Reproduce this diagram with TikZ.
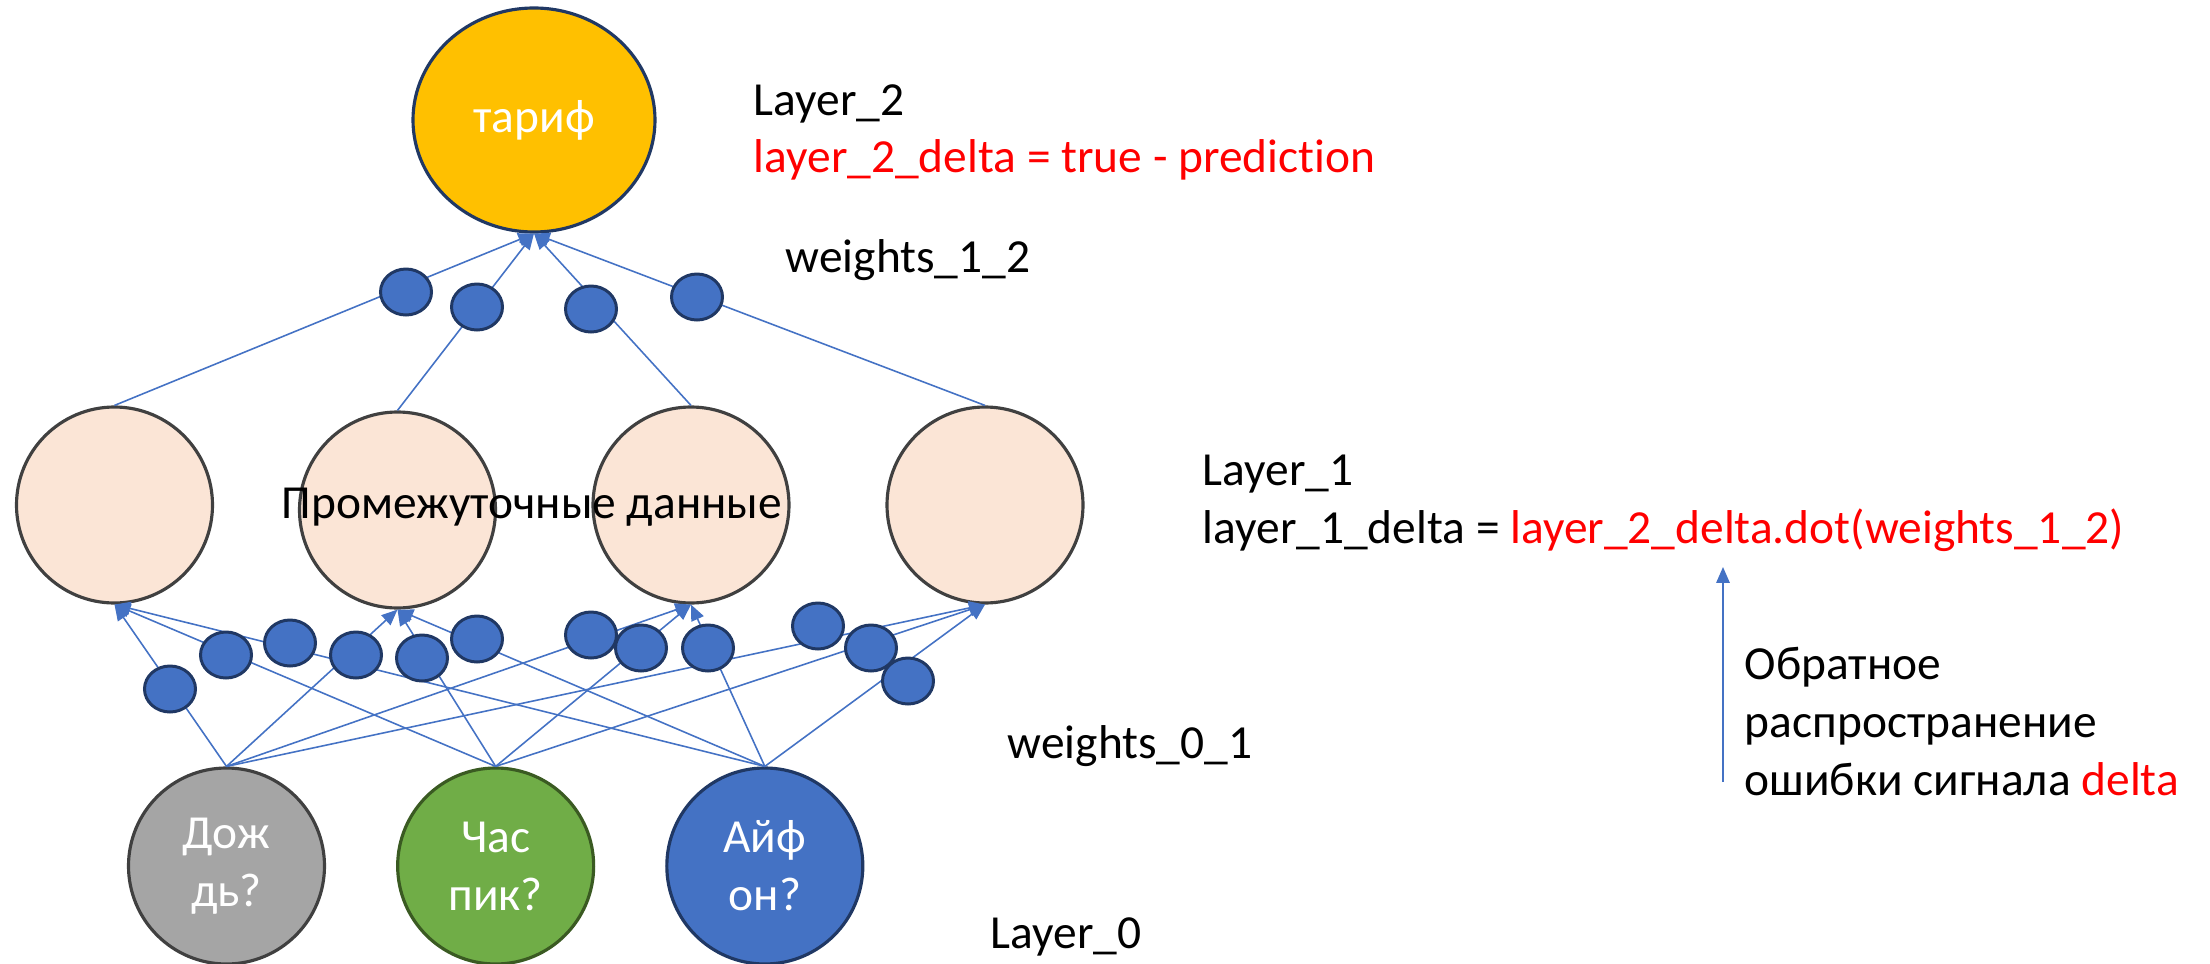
\documentclass[tikz,border=0pt]{standalone}
\usepackage{fontspec}
\setmainfont{Carlito}[Ligatures=NoCommon]
\usetikzlibrary{positioning,shapes.geometric,arrows.meta}

\definecolor{tarifgold}{HTML}{FFC000}
\definecolor{peach}{HTML}{FBE5D6}
\definecolor{raingray}{HTML}{A5A5A5}
\definecolor{rushgreen}{HTML}{70AD47}
\definecolor{wblue}{HTML}{4472C4}
\definecolor{navy}{HTML}{203864}
\definecolor{edgegray}{HTML}{404040}
\definecolor{darkgreen}{HTML}{3A5A22}
\newcommand{\lbl}{\fontsize{13.5}{16.5}\selectfont}

\begin{document}
\begin{tikzpicture}[
        neuron/.style = {
            circle,
            draw=edgegray,
            line width=0.9pt,
            minimum size=1.96cm,
            inner sep=0pt,
            text=white,
            align=center,
            font=\lbl
        },
        hidden/.style = {neuron, fill=peach},
        wdot/.style = {
            ellipse, draw=navy, fill=wblue, line width=0.85pt,
            minimum width=0.51cm, minimum height=0.46cm, inner sep=0pt
        },
        link/.style = {draw=wblue, line width=0.45pt, ->},
        note/.style = {anchor=base west, inner sep=0pt, font=\lbl},
        >={Triangle[length=4.5pt,width=3.8pt]},
        node distance=0.70cm]

        \useasboundingbox (0,0) rectangle (22.1,-9.64);

        % output layer
        \node[neuron, ellipse, fill=tarifgold, draw=navy,
              minimum width=2.42cm, minimum height=2.24cm] (tarif) at (5.34,-1.20) {тариф};

        % hidden layer
        \node[hidden] (h1) at (1.145,-5.05) {};
        \node[hidden] (h2) at (3.975,-5.10) {};
        \node[hidden] (h3) at (6.91,-5.05) {};
        \node[hidden] (h4) at (9.85,-5.05) {};

        % input layer
        \node[neuron, fill=raingray] (i1) at (2.265,-8.66) {Дож\\дь?};
        \node[neuron, fill=rushgreen, draw=darkgreen, right=of i1] (i2) {Час\\пик?};
        \node[neuron, fill=wblue, draw=navy, right=of i2] (i3) {Айф\\он?};

        \foreach \i in {i1,i2,i3}
            \foreach \h in {h1,h2,h3,h4}
                \draw[link] (\i.north) -- (\h.south);
        \foreach \h in {h1,h2,h3,h4}
            \draw[link] (\h.north) -- (tarif.south);

        % weights
        \foreach \x/\y [count=\k] in {4.06/-2.92, 4.77/-3.07, 5.91/-3.09, 6.97/-2.97}
            \node[wdot] (w12-\k) at (\x,\y) {};
        \foreach \x/\y [count=\k] in {1.70/-6.89, 2.26/-6.55, 2.90/-6.43, 3.56/-6.55,
                4.22/-6.58, 4.77/-6.39, 5.91/-6.35, 6.41/-6.48, 7.08/-6.48,
                8.18/-6.26, 8.71/-6.48, 9.08/-6.81}
            \node[wdot] (w01-\k) at (\x,\y) {};

        \node[font=\lbl, anchor=base, inner sep=0pt] (midtxt) at (5.32,-5.18) {Промежуточные данные};

        \node[note] (l2) at (7.53,-1.15) {Layer\_2};
        \node[note, text=red] (l2delta) at (7.53,-1.72) {layer\_2\_delta = true - prediction};
        \node[note] (w12) at (7.85,-2.72) {weights\_1\_2};
        \node[note] (l1) at (12.02,-4.85) {Layer\_1};
        \node[note] (l1delta) at (12.02,-5.43) {layer\_1\_delta = \textcolor{red}{layer\_2\_delta.dot(weights\_1\_2)}};
        \node[note] (w01) at (10.07,-7.58) {weights\_0\_1};
        \node[note] (l0) at (9.90,-9.48) {Layer\_0};
        \node[note, align=left] (backprop) at (17.44,-7.95) {Обратное\\распространение\\ошибки сигнала \textcolor{red}{delta}};

        \coordinate (bp-start) at (17.23,-7.82);
        \coordinate (bp-end) at (17.23,-5.67);
        \draw[link] (bp-start) -- (bp-end);
    \end{tikzpicture}
\end{document}
